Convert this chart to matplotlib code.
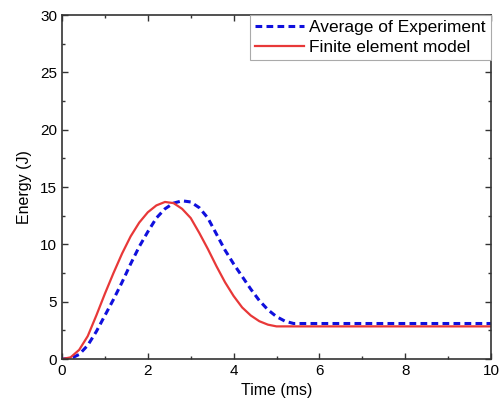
import matplotlib
matplotlib.use("Agg")
import matplotlib.pyplot as plt
from matplotlib.ticker import MultipleLocator

plt.rcParams['font.family'] = ['Liberation Sans', 'DejaVu Sans']

# Average of experiment
t_exp = [0, 0.2, 0.4, 0.6, 0.8, 1.0, 1.2, 1.4, 1.6, 1.8, 2.0, 2.2, 2.4, 2.6, 2.8,
         3.0, 3.2, 3.4, 3.6, 3.8, 4.0, 4.2, 4.4, 4.6, 4.8, 5.0, 5.2, 5.4, 6, 8, 10]
e_exp = [0, 0.05, 0.4, 1.2, 2.4, 3.8, 5.2, 6.7, 8.3, 9.8, 11.1, 12.3, 13.1, 13.6, 13.8,
         13.7, 13.2, 12.3, 10.9, 9.5, 8.3, 7.2, 6.1, 5.1, 4.3, 3.7, 3.3, 3.1, 3.1, 3.1, 3.1]

# Finite element model
t_fem = [0, 0.2, 0.4, 0.6, 0.8, 1.0, 1.2, 1.4, 1.6, 1.8, 2.0, 2.2, 2.4, 2.6, 2.8,
         3.0, 3.2, 3.4, 3.6, 3.8, 4.0, 4.2, 4.4, 4.6, 4.8, 5.0, 6, 8, 10]
e_fem = [0, 0.15, 0.8, 2.0, 3.8, 5.7, 7.5, 9.2, 10.7, 11.9, 12.8, 13.4, 13.7, 13.6, 13.1,
         12.3, 11.0, 9.6, 8.1, 6.7, 5.5, 4.5, 3.8, 3.3, 3.0, 2.85, 2.85, 2.85, 2.85]

fig = plt.figure(figsize=(5, 4.18), dpi=100)
ax = fig.add_axes([0.124, 0.141, 0.858, 0.823])

ax.plot(t_exp, e_exp, color='#1010dd', lw=2.2, ls=(0, (2.2, 1.4)), label='Average of Experiment')
ax.plot(t_fem, e_fem, color='#e83838', lw=1.6, label='Finite element model')

ax.set_xlim(0, 10)
ax.set_ylim(0, 30)
ax.xaxis.set_major_locator(MultipleLocator(2))
ax.xaxis.set_minor_locator(MultipleLocator(1))
ax.yaxis.set_major_locator(MultipleLocator(5))
ax.yaxis.set_minor_locator(MultipleLocator(2.5))
ax.tick_params(which='both', direction='in', top=True, right=True, labelsize=11, color='#333333')
ax.tick_params(which='major', length=4, width=1)
ax.tick_params(which='minor', length=2, width=1)
for s in ax.spines.values():
    s.set_linewidth(1.2)
    s.set_color('#333333')

ax.set_xlabel('Time (ms)', fontsize=11.5, labelpad=4)
ax.set_ylabel('Energy (J)', fontsize=11.5, labelpad=6)

leg = ax.legend(loc='upper right', fontsize=12.5, fancybox=False, framealpha=1,
                edgecolor='#aaaaaa', borderaxespad=0, handlelength=2.8,
                handletextpad=0.3, borderpad=0.3, labelspacing=0.25)
leg.get_frame().set_linewidth(0.8)

fig.savefig('out.png', dpi=100)
